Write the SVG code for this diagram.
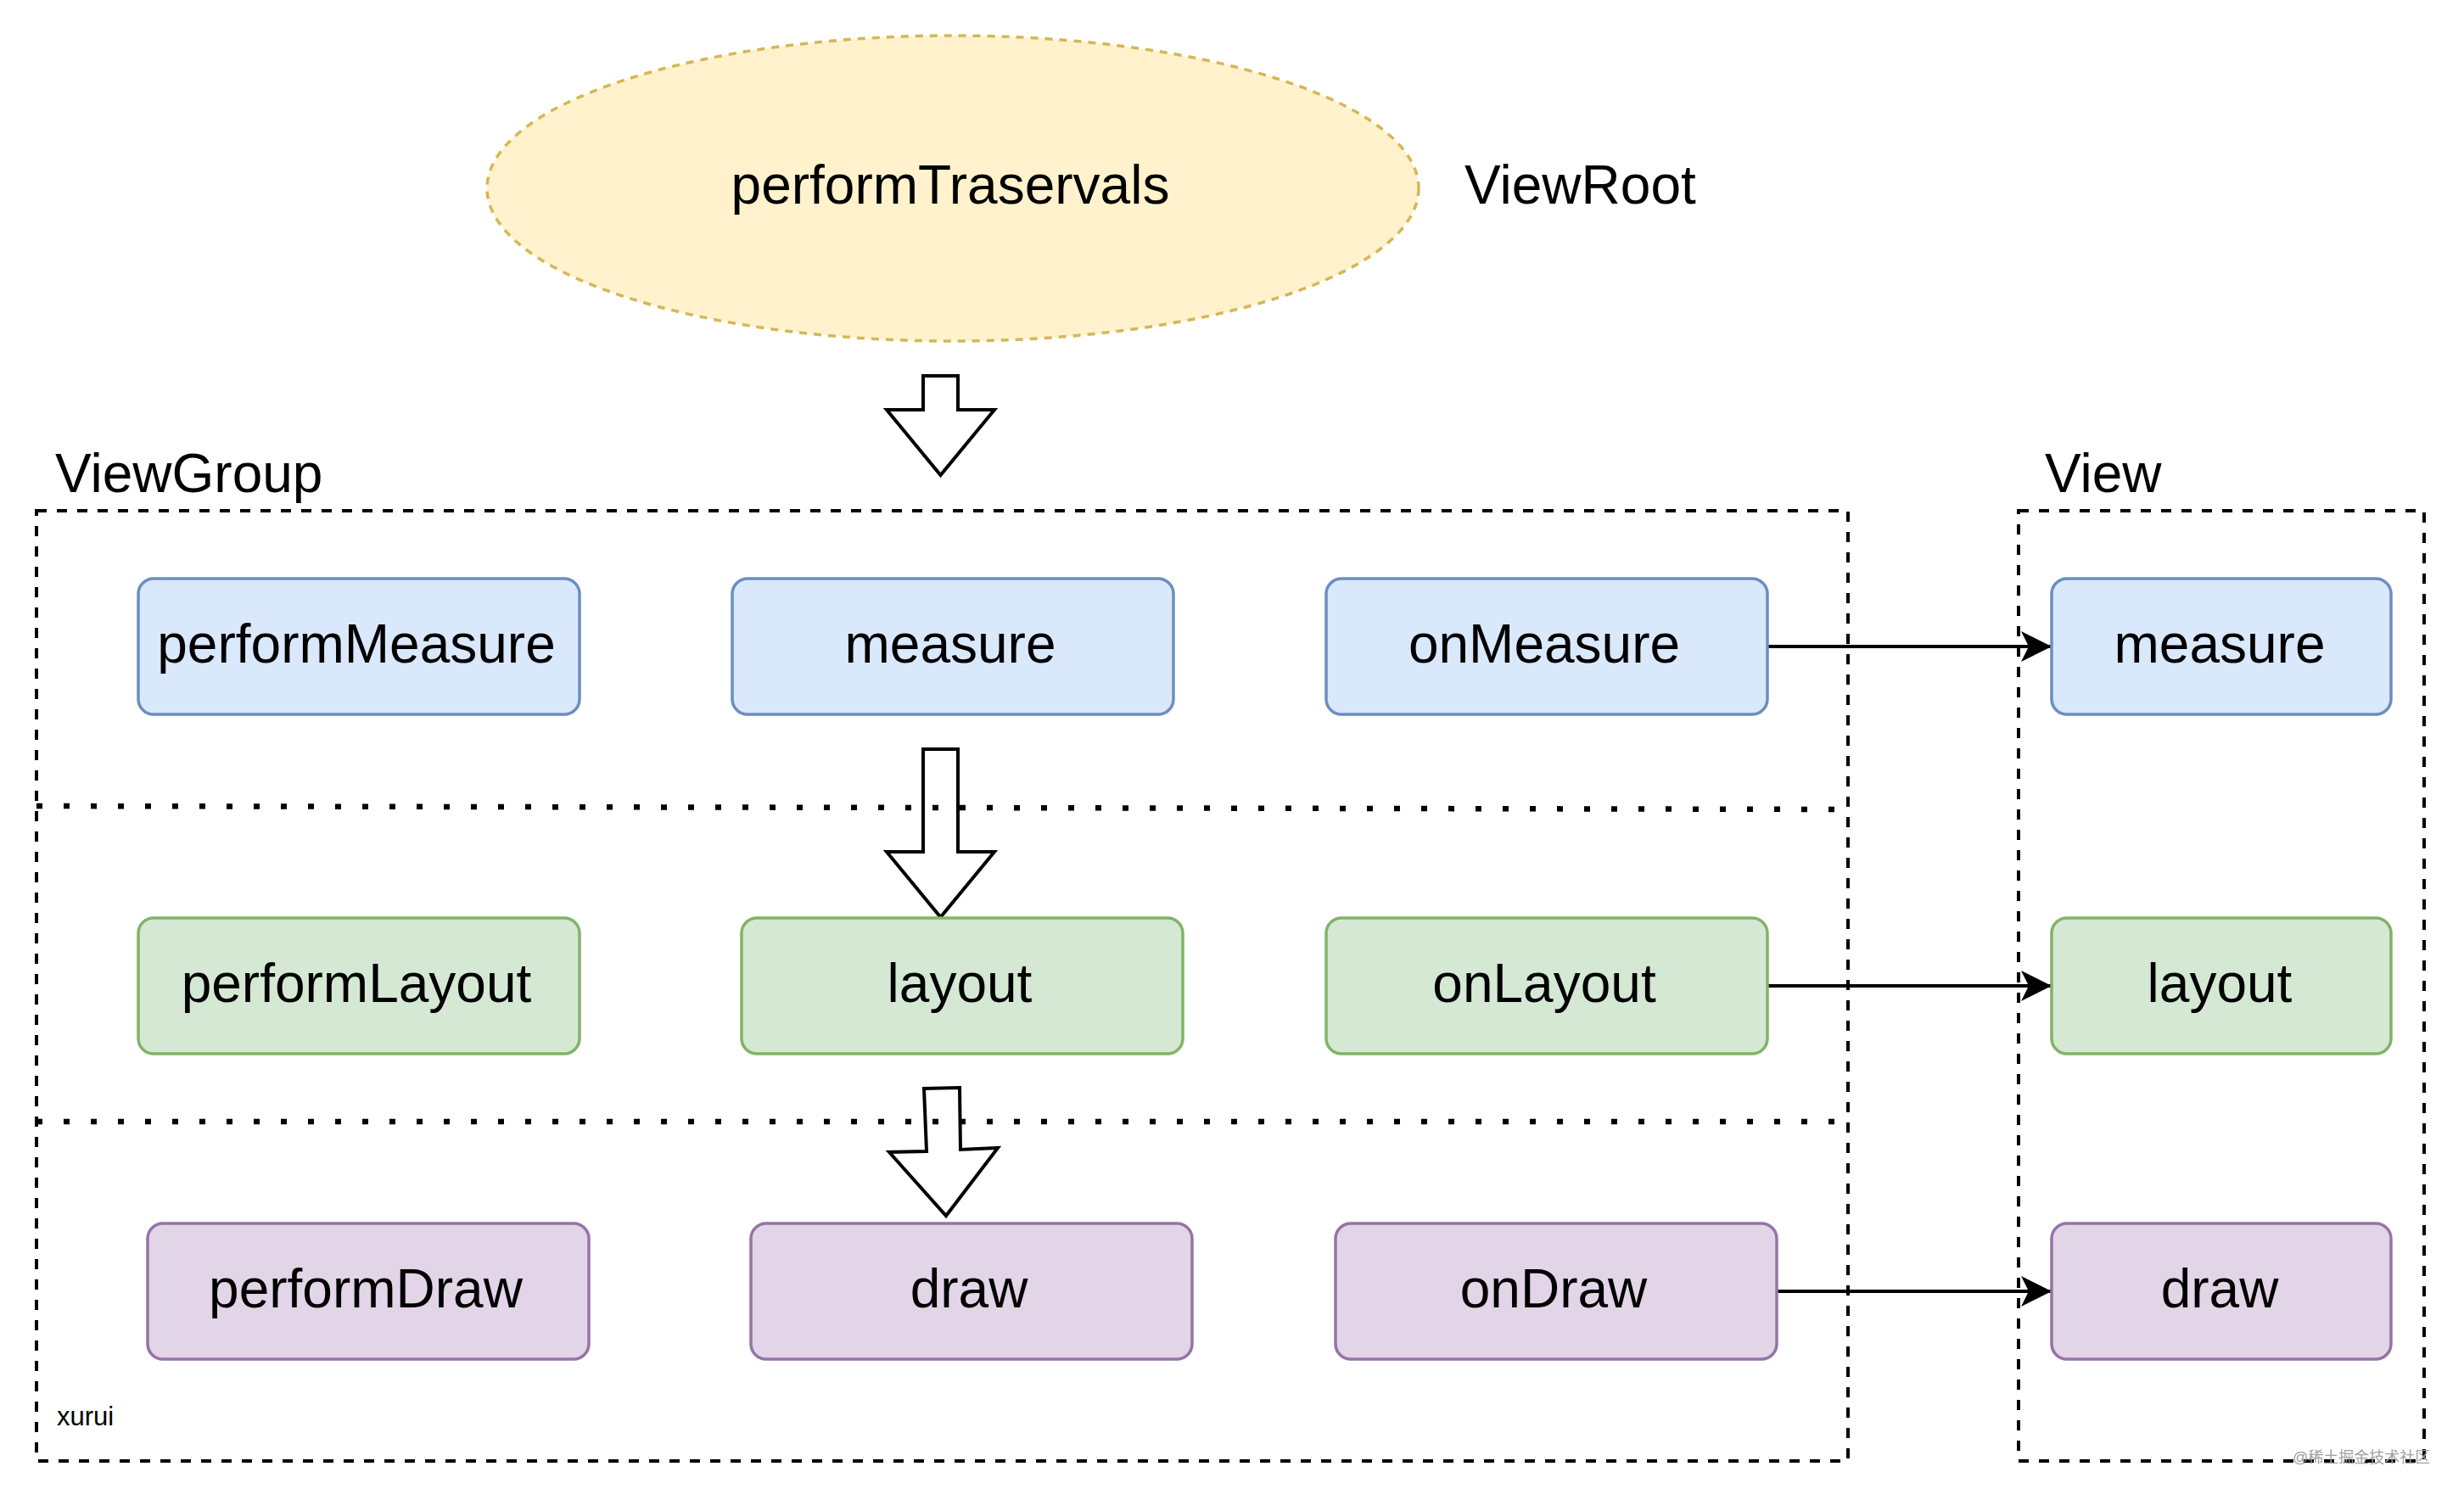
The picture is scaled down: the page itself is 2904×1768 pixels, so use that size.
<svg xmlns="http://www.w3.org/2000/svg" width="2904" height="1768" viewBox="0 0 2904 1768">
<defs>
<style>
text{font-family:"Liberation Sans",Arial,Helvetica,sans-serif;fill:#000}
.lbl{font-size:64px;text-anchor:middle}
.title{font-size:64px}
.blue{fill:#dae8fc;stroke:#6c8ebf;stroke-width:3.5}
.green{fill:#d5e8d4;stroke:#82b366;stroke-width:3.5}
.purple{fill:#e1d5e7;stroke:#9673a6;stroke-width:3.5}
.frame{fill:none;stroke:#000;stroke-width:4;stroke-dasharray:12 12}
.sep{fill:none;stroke:#000;stroke-width:6.5;stroke-dasharray:7 25}
.conn{fill:none;stroke:#000;stroke-width:4;marker-end:url(#arr)}
.big{fill:#fff;stroke:#000;stroke-width:4;stroke-linejoin:miter}
</style>
<marker id="arr" markerUnits="userSpaceOnUse" markerWidth="40" markerHeight="40" refX="36" refY="18" orient="auto" viewBox="0 0 40 40">
<path d="M0,0 L36,18 L0,36 L9,18 Z" fill="#000"/>
</marker>
</defs>
<rect width="2904" height="1768" fill="#fff"/>

<g id="viewroot">
<ellipse cx="1123" cy="222" rx="549" ry="180" fill="#fff2cc" stroke="#d6b656" stroke-width="3.5" stroke-dasharray="9 8"/>
<text class="lbl" x="1120" y="240">performTraservals</text>
</g>
<g id="viewroot-label"><text class="title" x="1726" y="240">ViewRoot</text></g>

<g id="viewgroup">
<rect class="frame" x="43" y="602" width="2135" height="1120"/>
<text class="title" x="65" y="580">ViewGroup</text>
<text x="67" y="1680" style="font-size:31px">xurui</text>
</g>
<g id="view">
<rect class="frame" x="2379" y="602" width="478" height="1120"/>
<text class="title" x="2410" y="580">View</text>
</g>

<g id="connectors">
<polygon class="big" points="1088,443 1129,443 1129,483 1172,483 1108.5,560 1045,483 1088,483"/>
<polygon class="big" points="1088,883 1129,883 1129,1004 1172,1004 1108.5,1081 1045,1004 1088,1004"/>
<polygon class="big" points="1089,1283 1131,1282 1132,1355 1176,1353 1115,1433 1048,1358 1092,1357"/>
<line class="conn" x1="2083" y1="762" x2="2418" y2="762"/>
<line class="conn" x1="2083" y1="1162" x2="2418" y2="1162"/>
<line class="conn" x1="2094" y1="1522" x2="2418" y2="1522"/>
</g>

<g id="separators">
<line class="sep" x1="43" y1="950" x2="2175" y2="954"/>
<line class="sep" x1="43" y1="1322" x2="2175" y2="1322"/>
</g>

<g id="performMeasure"><rect class="blue" x="163" y="682" width="520" height="160" rx="18"/><text class="lbl" x="420" y="781">performMeasure</text></g>
<g id="measure"><rect class="blue" x="863" y="682" width="520" height="160" rx="18"/><text class="lbl" x="1120" y="781">measure</text></g>
<g id="onMeasure"><rect class="blue" x="1563" y="682" width="520" height="160" rx="18"/><text class="lbl" x="1820" y="781">onMeasure</text></g>
<g id="view-measure"><rect class="blue" x="2418" y="682" width="400" height="160" rx="18"/><text class="lbl" x="2616" y="781">measure</text></g>

<g id="performLayout"><rect class="green" x="163" y="1082" width="520" height="160" rx="18"/><text class="lbl" x="420" y="1181">performLayout</text></g>
<g id="layout"><rect class="green" x="874" y="1082" width="520" height="160" rx="18"/><text class="lbl" x="1131" y="1181">layout</text></g>
<g id="onLayout"><rect class="green" x="1563" y="1082" width="520" height="160" rx="18"/><text class="lbl" x="1820" y="1181">onLayout</text></g>
<g id="view-layout"><rect class="green" x="2418" y="1082" width="400" height="160" rx="18"/><text class="lbl" x="2616" y="1181">layout</text></g>

<g id="performDraw"><rect class="purple" x="174" y="1442" width="520" height="160" rx="18"/><text class="lbl" x="431" y="1541">performDraw</text></g>
<g id="draw"><rect class="purple" x="885" y="1442" width="520" height="160" rx="18"/><text class="lbl" x="1142" y="1541">draw</text></g>
<g id="onDraw"><rect class="purple" x="1574" y="1442" width="520" height="160" rx="18"/><text class="lbl" x="1831" y="1541">onDraw</text></g>
<g id="view-draw"><rect class="purple" x="2418" y="1442" width="400" height="160" rx="18"/><text class="lbl" x="2616" y="1541">draw</text></g>

<text x="2702" y="1724" style="font-size:18px;fill:#a0a0a0;font-family:'Liberation Sans','Noto Sans CJK SC',sans-serif">@稀土掘金技术社区</text>
</svg>
